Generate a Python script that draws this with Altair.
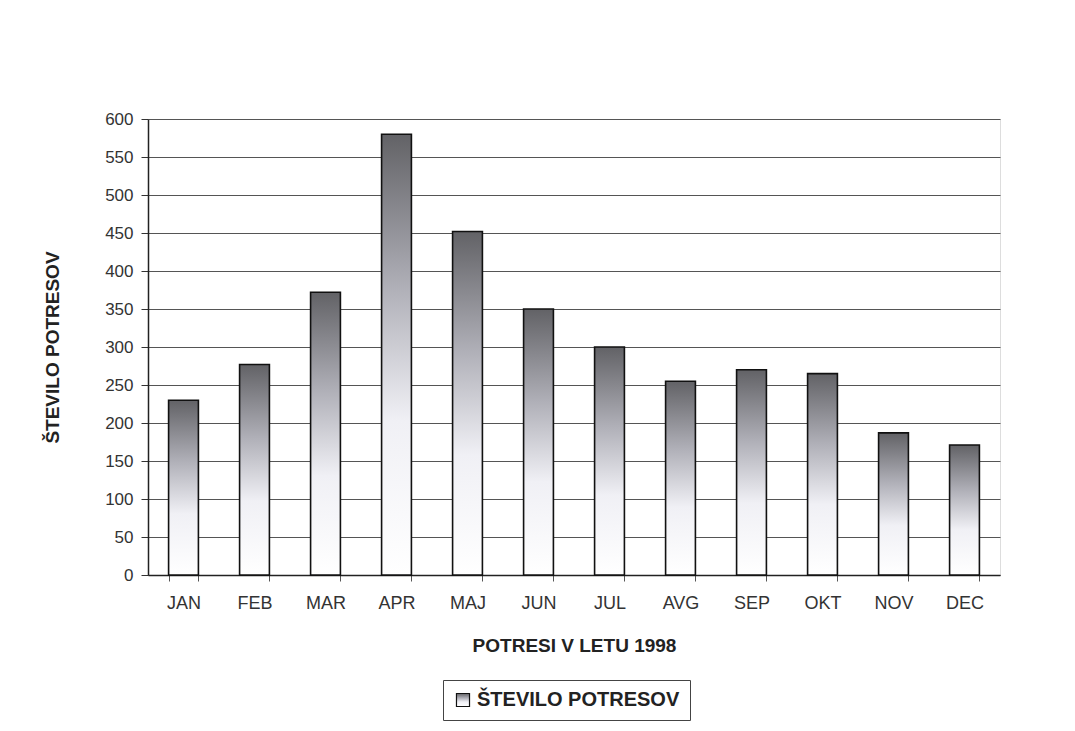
import altair as alt
import pandas as pd

months = ["JAN", "FEB", "MAR", "APR", "MAJ", "JUN", "JUL", "AVG", "SEP", "OKT", "NOV", "DEC"]
counts = [230, 277, 372, 580, 452, 350, 300, 255, 270, 265, 187, 171]
series_name = "ŠTEVILO POTRESOV"

df = pd.DataFrame({"mesec": months, "stevilo": counts, "serija": [series_name] * len(months)})

FONT = "Liberation Sans"

gradient = {
    "gradient": "linear",
    "x1": 0, "y1": 0, "x2": 0, "y2": 1,
    "stops": [
        {"offset": 0.0, "color": "#626266"},
        {"offset": 0.35, "color": "#b0b0b8"},
        {"offset": 0.65, "color": "#f0f0f5"},
        {"offset": 1.0, "color": "#ffffff"},
    ],
}

bars = alt.Chart(df).mark_bar(fill=gradient, strokeWidth=1.6).encode(
    x=alt.X("mesec:N", sort=months,
            scale=alt.Scale(paddingInner=0.58, paddingOuter=0.29),
            axis=alt.Axis(title="POTRESI V LETU 1998", labelAngle=0, tickBand="extent",
                          labelFontSize=18, labelColor="#333333", labelFont=FONT,
                          labelPadding=13, tickSize=6, tickColor="#555555",
                          domainColor="#222222", domainWidth=1.5,
                          titleFont=FONT, titleFontSize=19, titleFontWeight="bold",
                          titleColor="#222222", titlePadding=24, grid=False)),
    y=alt.Y("stevilo:Q",
            scale=alt.Scale(domain=[0, 600], nice=False),
            axis=alt.Axis(title=series_name, values=list(range(0, 601, 50)),
                          labelFontSize=17, labelColor="#333333", labelFont=FONT,
                          labelPadding=8, tickSize=7, tickColor="#333333",
                          domainColor="#222222", domainWidth=1.5,
                          gridColor="#555555", gridWidth=1.2,
                          titleFont=FONT, titleFontSize=19, titleFontWeight="bold",
                          titleColor="#222222", titlePadding=42)),
    stroke=alt.Stroke("serija:N", scale=alt.Scale(range=["#111111"]),
                      legend=alt.Legend(title=None, orient="none", legendX=295, legendY=561,
                                        direction="horizontal", symbolType="square",
                                        symbolSize=170, symbolFillColor="#d6d6d6",
                                        symbolStrokeColor="#222222", symbolStrokeWidth=1.2,
                                        labelFont=FONT, labelFontSize=20, labelFontWeight="bold",
                                        labelColor="#222222",
                                        strokeColor="#444444", padding=10,
                                        labelLimit=400)),
)

chart = bars.properties(
    width=852, height=456,
    autosize=alt.AutoSizeParams(type="none"),
    padding={"left": 140, "top": 111, "right": 60, "bottom": 150},
).configure_view(stroke="#222222", strokeWidth=1.5).configure(background="white")

chart.save("out.html", embed_options={"renderer": "svg", "actions": False})
